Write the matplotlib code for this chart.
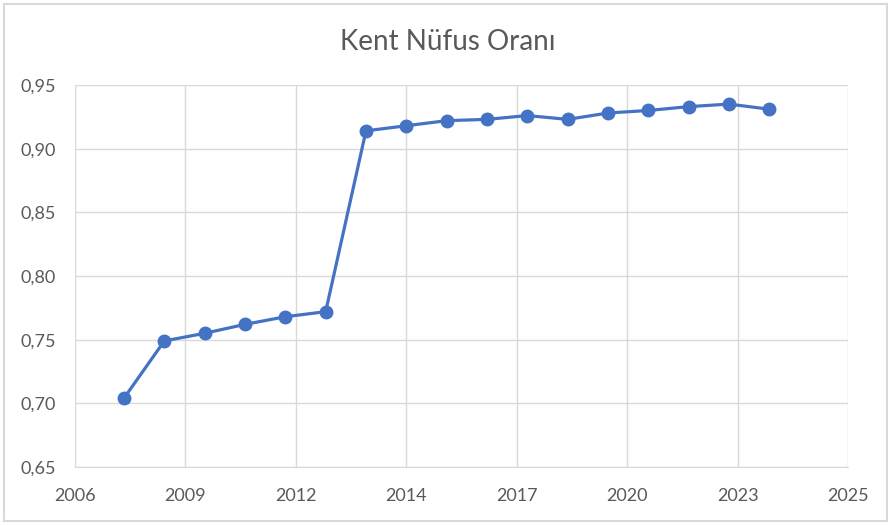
import datetime as dt
import matplotlib
matplotlib.use("Agg")
import matplotlib.pyplot as plt
import matplotlib.dates as mdates
from matplotlib.patches import Rectangle

years = [2007, 2008, 2009, 2010, 2011, 2012, 2013, 2014, 2015, 2016,
         2017, 2018, 2019, 2020, 2021, 2022, 2023]
ratio = [0.704, 0.749, 0.755, 0.762, 0.768, 0.772, 0.914, 0.918, 0.922, 0.923,
         0.926, 0.923, 0.928, 0.930, 0.933, 0.935, 0.931]
y_ticks = [0.65, 0.70, 0.75, 0.80, 0.85, 0.90, 0.95]
title = "Kent Nüfus Oranı"

plt.rcParams['font.family'] = ['Lato', 'DejaVu Sans']
grey = "#595959"
grid_c = "#D9D9D9"

dates = [dt.date(y, 12, 31) for y in years]

fig = plt.figure(figsize=(8.91, 5.25), dpi=100)
ax = fig.add_axes([75/891, 1 - 467/525, (848 - 75)/891, (467 - 85)/525])

ax.plot(dates, ratio, color="#4472C4", lw=2.3, marker="o", ms=9,
        markeredgecolor="#4472C4", zorder=3)

# excel style date axis: start + steps of 1000 days
x0 = dt.date(2006, 10, 14)
xt = [x0 + dt.timedelta(days=1000 * k) for k in range(8)]
ax.set_xlim(xt[0], xt[-1])
ax.set_xticks(xt)
ax.xaxis.set_major_formatter(mdates.DateFormatter("%Y"))
ax.set_ylim(0.65, 0.95)
ax.set_yticks(y_ticks)
ax.set_yticklabels([f"{v:.2f}".replace(".", ",") for v in y_ticks])

ax.grid(True, color=grid_c, lw=1)
ax.set_axisbelow(True)
for s in ["top", "right", "left"]:
    ax.spines[s].set_visible(False)
ax.spines["bottom"].set_color(grid_c)
ax.tick_params(length=0, colors=grey, labelsize=13)
ax.tick_params(axis="x", pad=15)
ax.tick_params(axis="y", pad=14)

fig.text(448/891, 1 - 42/525, title, ha="center", va="center",
         fontsize=20, color=grey)

fig.patches.append(Rectangle((4/891, 4/525), 883/891, 517/525, transform=fig.transFigure,
                             fill=False, edgecolor=grid_c, lw=1.5))

fig.savefig("out.png", dpi=100)
plt.close(fig)
